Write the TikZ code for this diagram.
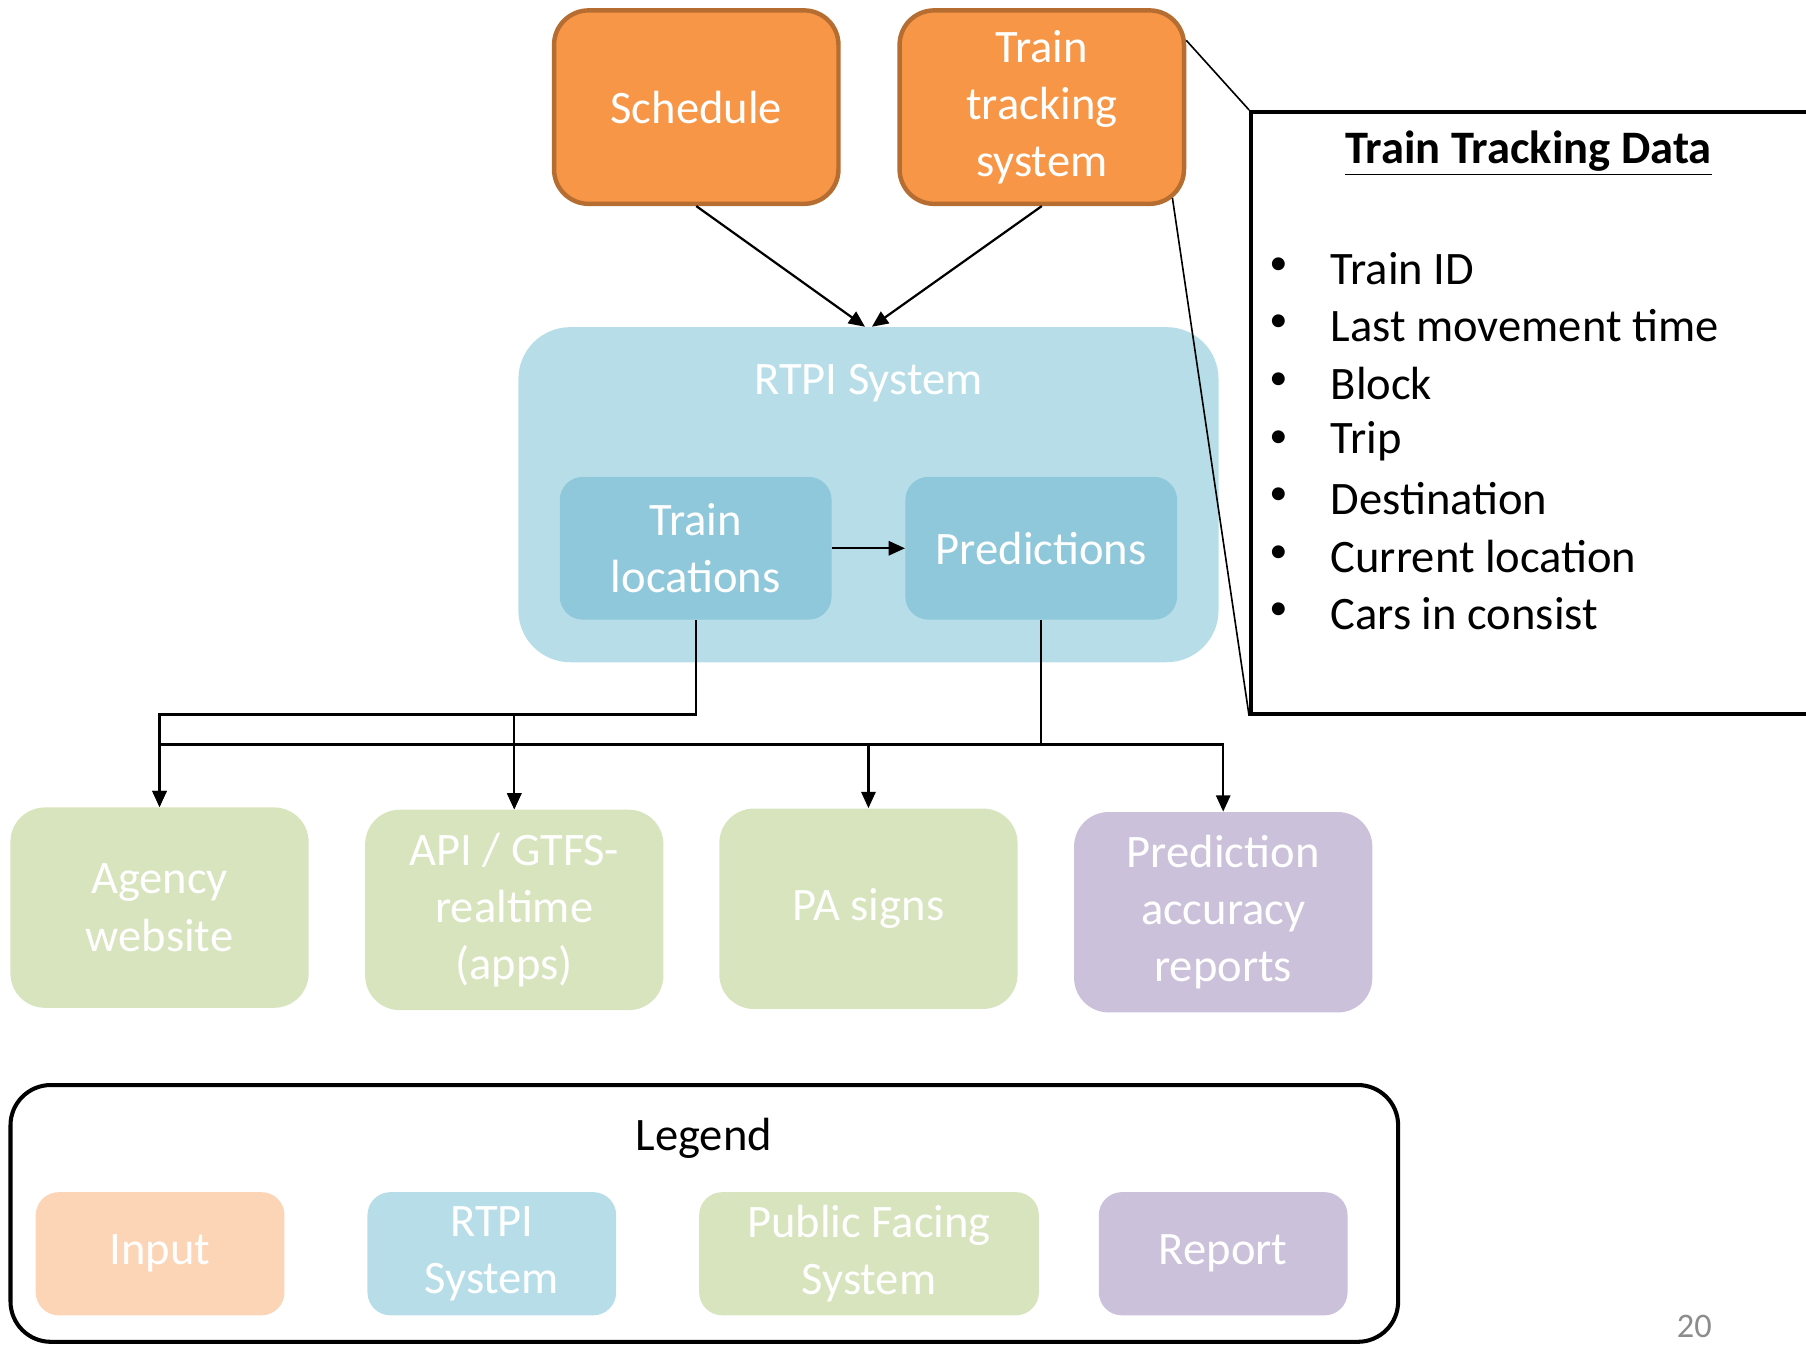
\documentclass[tikz,border=0pt]{standalone}
\usepackage{fontspec}
\setmainfont{Carlito}
\usetikzlibrary{arrows.meta,calc}
\definecolor{orfill}{HTML}{F79646}
\definecolor{ordraw}{HTML}{B66D31}
\definecolor{rtpil}{HTML}{B7DEE8}
\definecolor{rtpid}{HTML}{8FC8DA}
\definecolor{greenb}{HTML}{D7E4BD}
\definecolor{purpb}{HTML}{CCC1DA}
\definecolor{peach}{HTML}{FBD5B5}
\definecolor{pgnum}{HTML}{8C8C8C}
\tikzset{
  txt/.style={font=\fontsize{23}{28.3}\selectfont, align=center, inner sep=0pt},
  inbox/.style={txt, fill=orfill, draw=ordraw, line width=2.2pt, rounded corners=0.6cm,
     minimum width=4.94cm, minimum height=3.36cm, text=white},
  inner/.style={txt, fill=rtpid, rounded corners=0.4cm, minimum width=4.72cm, minimum height=2.48cm, text=white},
  outbox/.style={txt, rounded corners=0.6cm, minimum width=5.18cm, minimum height=3.48cm, text=white},
  legbox/.style={txt, rounded corners=0.4cm, minimum height=2.14cm, text=white},
  arr/.style={line width=1.1pt, -{Triangle[width=7pt,length=8pt]}},
  thin/.style={line width=0.8pt},
}
\begin{document}
\begin{tikzpicture}[x=0.02cm,y=-0.02cm]
\useasboundingbox (0,0) rectangle (1568,1167);
% inputs
\node[inbox] (sched) at (604.5,93) {Schedule};
\node[inbox] (tts) at (904.5,93) {Train\\tracking\\system};
% RTPI
\node[txt, fill=rtpil, rounded corners=0.9cm, minimum width=12.16cm, minimum height=5.82cm] (rtpi) at (754,429.5) {};
\node[txt, text=white] (rtpilab) at (754,333) {RTPI System};
\node[inner] (tl) at (604,476) {Train\\locations};
\node[inner] (pred) at (904,476) {Predictions};
% outputs
\node[outbox, fill=greenb] (agency) at (138.5,788) {Agency\\website};
\node[outbox, fill=greenb] (api) at (446.5,790) {API / GTFS-\\realtime\\(apps)};
\node[outbox, fill=greenb] (pa) at (754,789) {PA signs};
\node[outbox, fill=purpb] (pacc) at (1062,792) {Prediction\\accuracy\\reports};
% Train tracking data box
\node[draw, line width=1.8pt, minimum width=9.98cm, minimum height=10.46cm, inner sep=0pt] (ttd) at (1335.5,358.5) {};
\node[txt] (ttdtitle) at (1327,133) {\underline{\textbf{Train Tracking Data}}};
\foreach \t [count=\i from 0] in {Train ID, Last movement time, Block, Trip, Destination, Current location, Cars in consist}{
  \node[txt, font=\fontsize{18}{20}\selectfont] (bul\i) at (1110,231+50*\i) {•};
  \node[txt, anchor=west] (item\i) at (1155,233+50*\i) {\t};
}
% callout lines
\draw[thin] ($(tts.east)+(0,-58)$) -- (ttd.north west);
\draw[thin] ($(tts.south east)+(-12,-7)$) -- (ttd.south west);
% connectors
\draw[arr] (sched.south) -- ($(rtpi.north)+(-3,0)$);
\draw[arr] (tts.south) -- ($(rtpi.north)+(3,0)$);
\draw[arr] (tl.east) -- (pred.west);
\draw[arr] (tl.south) -- ++(0,82) -| (agency.north);
\draw[arr] (tl.south) -- ++(0,82) -| (api.north);
\draw[arr] (pred.south) -- ++(0,108) -| (agency.north);
\draw[arr] (pred.south) -- ++(0,108) -| (api.north);
\draw[arr] (pred.south) -- ++(0,108) -| (pa.north);
\draw[arr] (pred.south) -- ++(0,108) -| (pacc.north);
% legend
\node[draw, line width=2pt, rounded corners=0.7cm, minimum width=24.1cm, minimum height=4.46cm, inner sep=0pt] (legend) at (611.5,1053.5) {};
\node[txt] (legtitle) at (611,988) {Legend};
\node[legbox, fill=peach, minimum width=4.32cm] (lin) at (139,1088.5) {Input};
\node[legbox, fill=rtpil, minimum width=4.32cm] (lrtpi) at (427,1088.5) {RTPI\\System};
\node[legbox, fill=greenb, minimum width=5.9cm] (lpub) at (754.5,1088.5) {Public Facing\\System};
\node[legbox, fill=purpb, minimum width=4.32cm] (lrep) at (1062,1088.5) {Report};
\node[inner sep=0pt, text=pgnum, font=\fontsize{17}{20}\selectfont] (pgn) at (1471,1152) {20};
\end{tikzpicture}
\end{document}
